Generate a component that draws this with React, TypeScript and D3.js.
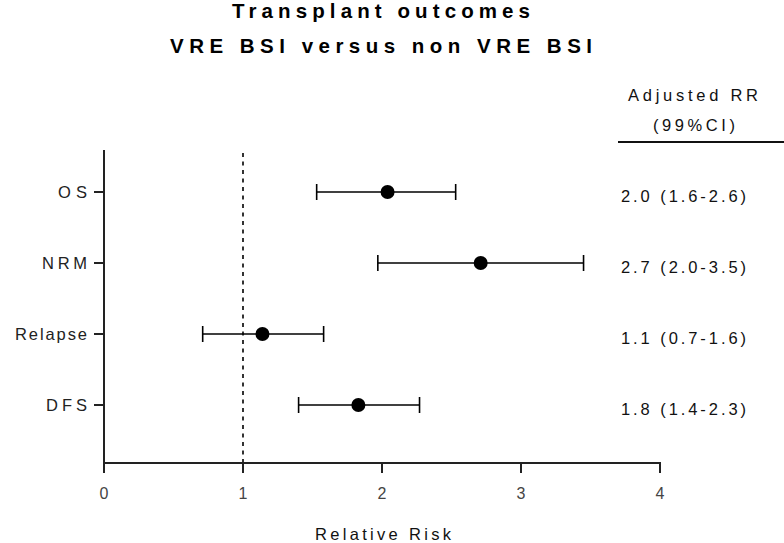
import React from "react";
import * as d3 from "d3";

const categories = ["OS", "NRM", "Relapse", "DFS"];
const estimates = [2.04, 2.71, 1.14, 1.83];
const lowerCI = [1.53, 1.97, 0.71, 1.40];
const upperCI = [2.53, 3.45, 1.58, 2.27];
const rrLabels = ["2.0 (1.6-2.6)", "2.7 (2.0-3.5)", "1.1 (0.7-1.6)", "1.8 (1.4-2.3)"];
const xTicks = [0, 1, 2, 3, 4];
const catLabelWidths = [29, 45, 72, 41];

const FONT = "'Liberation Sans', Arial, Helvetica, sans-serif";

export default function App() {
  const W = 784, H = 543;
  const x = d3.scaleLinear().domain([0, 4]).range([104, 660]);
  const y = d3.scalePoint<string>().domain(categories).range([192, 405]);
  const axisTop = 150, axisY = 463;
  const capH = 8;

  return (
    <svg width={W} height={H} style={{ position: "absolute", left: 0, top: 0, background: "#fff" }} fontFamily={FONT}>
      {/* Title */}
      <text x={381} y={18} textAnchor="middle" fontSize={20.5} fontWeight="bold" textLength={298} lengthAdjust="spacing" fill="#000">Transplant outcomes</text>
      <text x={381} y={53} textAnchor="middle" fontSize={20.5} fontWeight="bold" textLength={422} lengthAdjust="spacing" fill="#000">VRE BSI versus non VRE BSI</text>

      {/* Right header */}
      <text x={693} y={101} textAnchor="middle" fontSize={16.5} textLength={130} lengthAdjust="spacing" fill="#111">Adjusted RR</text>
      <text x={694} y={131} textAnchor="middle" fontSize={16.5} textLength={82} lengthAdjust="spacing" fill="#111">(99%CI)</text>
      <line x1={618} x2={784} y1={142} y2={142} stroke="#111" strokeWidth={2} />

      {/* Reference dashed line */}
      <line x1={x(1)} x2={x(1)} y1={axisTop + 3} y2={axisY} stroke="#000" strokeWidth={1.6} strokeDasharray="4,4.5" />

      {/* Axes */}
      <line x1={x(0)} x2={x(0)} y1={axisTop} y2={axisY + 1} stroke="#222" strokeWidth={2} />
      <line x1={x(0) - 1} x2={x(4) + 1} y1={axisY} y2={axisY} stroke="#222" strokeWidth={2} />
      {xTicks.map((t) => (
        <g key={t}>
          <line x1={x(t)} x2={x(t)} y1={axisY} y2={axisY + 10} stroke="#222" strokeWidth={2} />
          <text x={x(t)} y={499} textAnchor="middle" fontSize={16} fill="#444">{t}</text>
        </g>
      ))}
      {categories.map((c, i) => (
        <g key={c}>
          <line x1={x(0) - 10} x2={x(0)} y1={y(c)!} y2={y(c)!} stroke="#222" strokeWidth={2} />
          <text x={87} y={y(c)! + 6} textAnchor="end" fontSize={16.5} textLength={catLabelWidths[i]} lengthAdjust="spacing" fill="#222">{c}</text>
        </g>
      ))}
      <text x={383} y={540} textAnchor="middle" fontSize={16.5} textLength={136} lengthAdjust="spacing" fill="#111">Relative Risk</text>

      {/* Error bars and points */}
      {categories.map((c, i) => {
        const cy = y(c)!;
        return (
          <g key={"m" + c}>
            <line x1={x(lowerCI[i])} x2={x(upperCI[i])} y1={cy} y2={cy} stroke="#000" strokeWidth={1.6} />
            <line x1={x(lowerCI[i])} x2={x(lowerCI[i])} y1={cy - capH} y2={cy + capH} stroke="#000" strokeWidth={1.6} />
            <line x1={x(upperCI[i])} x2={x(upperCI[i])} y1={cy - capH} y2={cy + capH} stroke="#000" strokeWidth={1.6} />
            <circle cx={x(estimates[i])} cy={cy} r={7} fill="#000" />
            <text x={621} y={cy + 10} fontSize={16.5} textLength={125} lengthAdjust="spacing" fill="#111">{rrLabels[i]}</text>
          </g>
        );
      })}
    </svg>
  );
}
